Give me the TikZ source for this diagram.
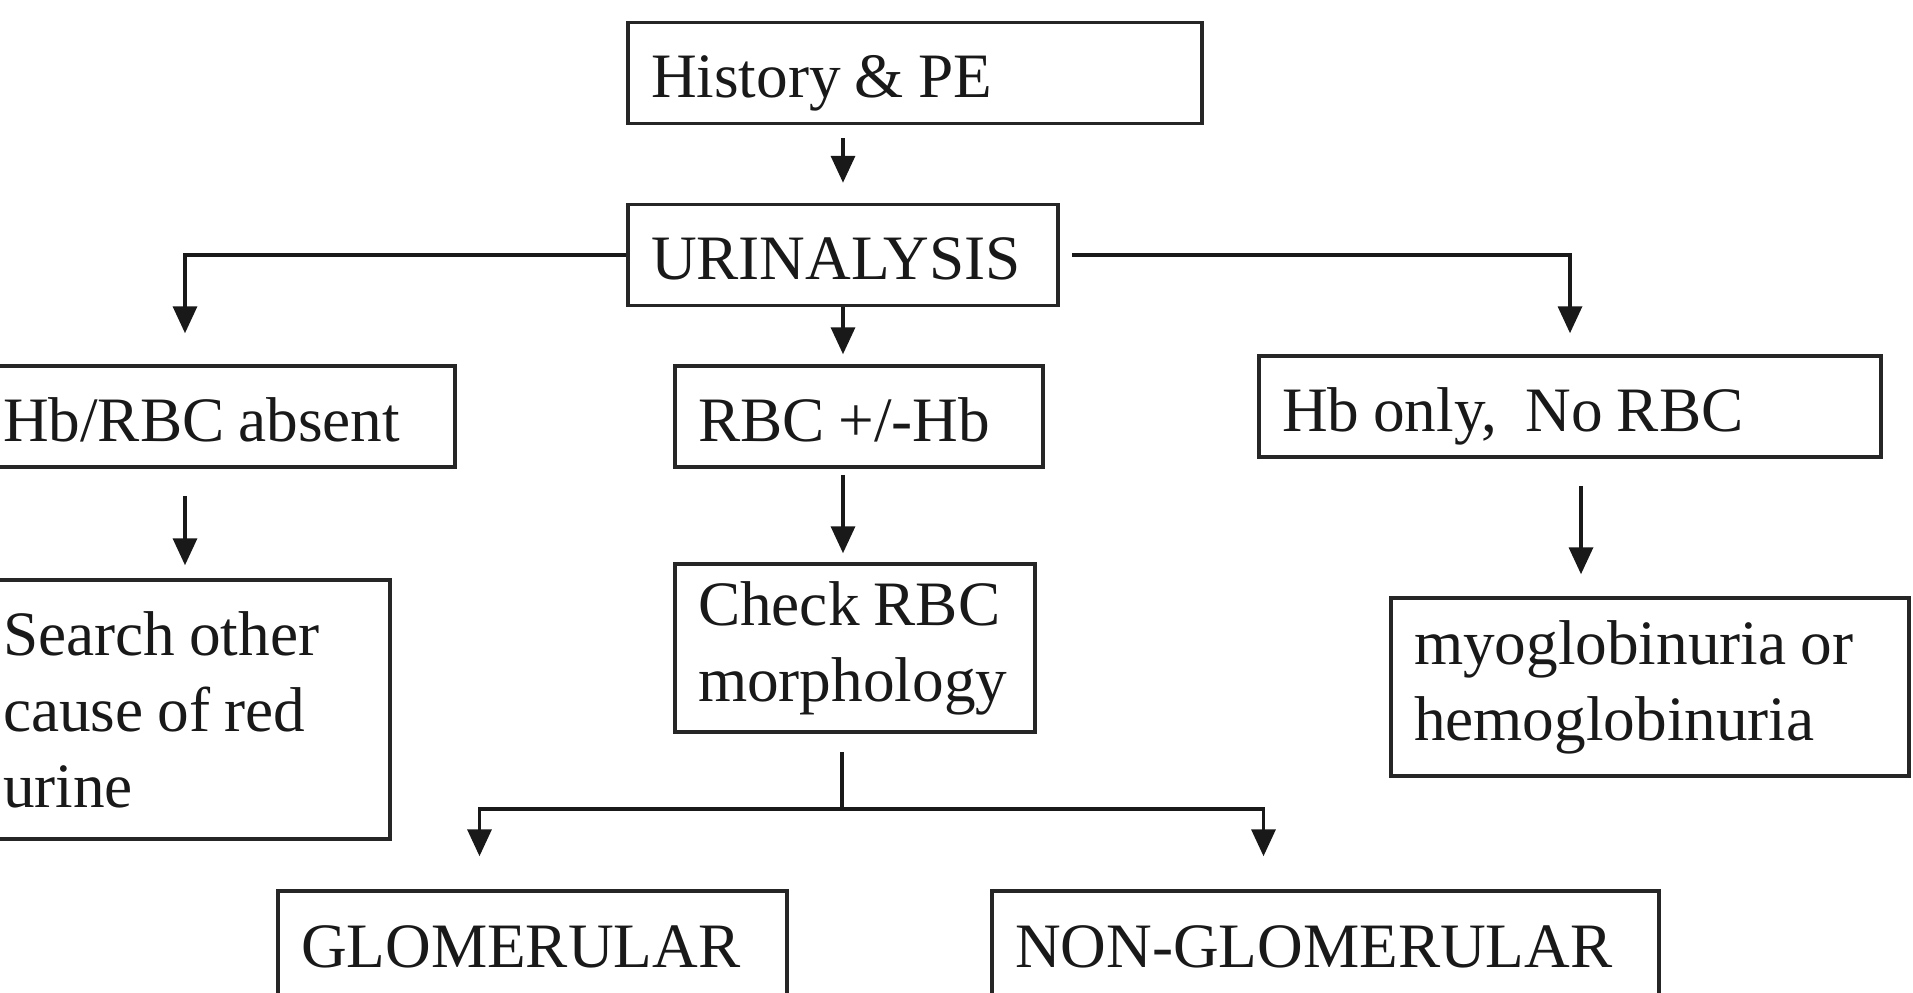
\documentclass[tikz,border=0pt]{standalone}
\usepackage{fontspec}
\setmainfont{Liberation Serif}
\usetikzlibrary{positioning}
\usetikzlibrary{arrows.meta}
\newcommand{\tightspaces}{\spaceskip=4pt plus 2pt minus 1pt\relax}
\tikzset{
        stepbox/.style={rectangle, draw=black!85, line width=1pt, align=left, inner xsep=0.23cm, inner ysep=0pt,
                        font=\fontsize{18}{21.6}\selectfont, execute at begin node=\tightspaces},
        % One-line boxes
        onebox/.style={stepbox, minimum height=1.01cm, text height=14pt, text depth=0pt},
        % Connectors
        flow/.style={black!90, line width=1pt}
}

\begin{document}
\begin{tikzpicture}[
            >={Triangle[length=2.7mm,width=2.4mm]},
            every path/.style={flow}
        ]
            \useasboundingbox (0,0) rectangle (19.13,-9.92);
            % Top
            \node[onebox, text width=5.28cm] (hist) at (9.15,-0.73) {History \& PE};
            \node[onebox, text width=3.84cm] (urin) at (8.43,-2.55) {URINALYSIS};
            % Urinalysis results
            \node[onebox, text width=4.29cm] (absent) at (2.175,-4.165) {Hb/RBC absent};
            \node[onebox, text width=3.22cm] (rbc) at (8.59,-4.165) {RBC +/-Hb};
            \node[onebox, text width=5.76cm] (hbonly) at (15.70,-4.065) {Hb only,\ \ No RBC};
            % Next steps
            \node[stepbox, text width=3.64cm, minimum height=2.59cm] (search) at (1.85,-7.095) {Search other\\cause of red\\urine};
            \node[stepbox, text width=3.14cm, minimum height=1.68cm] (check) at (8.55,-6.48) {Check RBC\\morphology};
            \node[stepbox, text width=4.72cm, minimum height=1.78cm] (myo) at (16.50,-6.87) {myoglobinuria or\\hemoglobinuria};
            % Morphology
            \node[onebox, text width=4.63cm, minimum height=1.04cm] (glom) at (5.325,-9.43) {GLOMERULAR};
            \node[onebox, text width=6.21cm, minimum height=1.04cm] (nonglom) at (13.255,-9.43) {NON-GLOMERULAR};

            \draw[->, shorten <=0.13cm, shorten >=0.2cm] (hist.south -| urin.north) -- (urin.north);
            \draw[->, shorten >=0.31cm] (urin.west) -| (search.north |- absent.north);
            \draw[->, shorten >=0.1cm] (urin.south) -- (urin.south |- rbc.north);
            \draw[->, shorten <=0.12cm, shorten >=0.21cm] (urin.east) -| (hbonly.north);
            \draw[->, shorten <=0.27cm, shorten >=0.13cm] (absent.south -| search.north) -- (search.north);
            \draw[->, shorten <=0.06cm, shorten >=0.09cm] (rbc.south -| urin.south) -- (check.north -| urin.south);
            \draw[->, shorten <=0.27cm, shorten >=0.22cm] ([xshift=0.11cm]hbonly.south) -- ([xshift=0.11cm]hbonly.south |- myo.north);
            \coordinate (split) at (8.42,-8.09);
            \draw[shorten <=0.18cm] (check.south -| split) -- (split);
            \draw[->, shorten >=0.33cm] (split) -| ([xshift=-0.53cm]glom.north);
            \draw[->, shorten >=0.33cm] (split) -| ([xshift=-0.62cm]nonglom.north);
        \end{tikzpicture}
\end{document}
